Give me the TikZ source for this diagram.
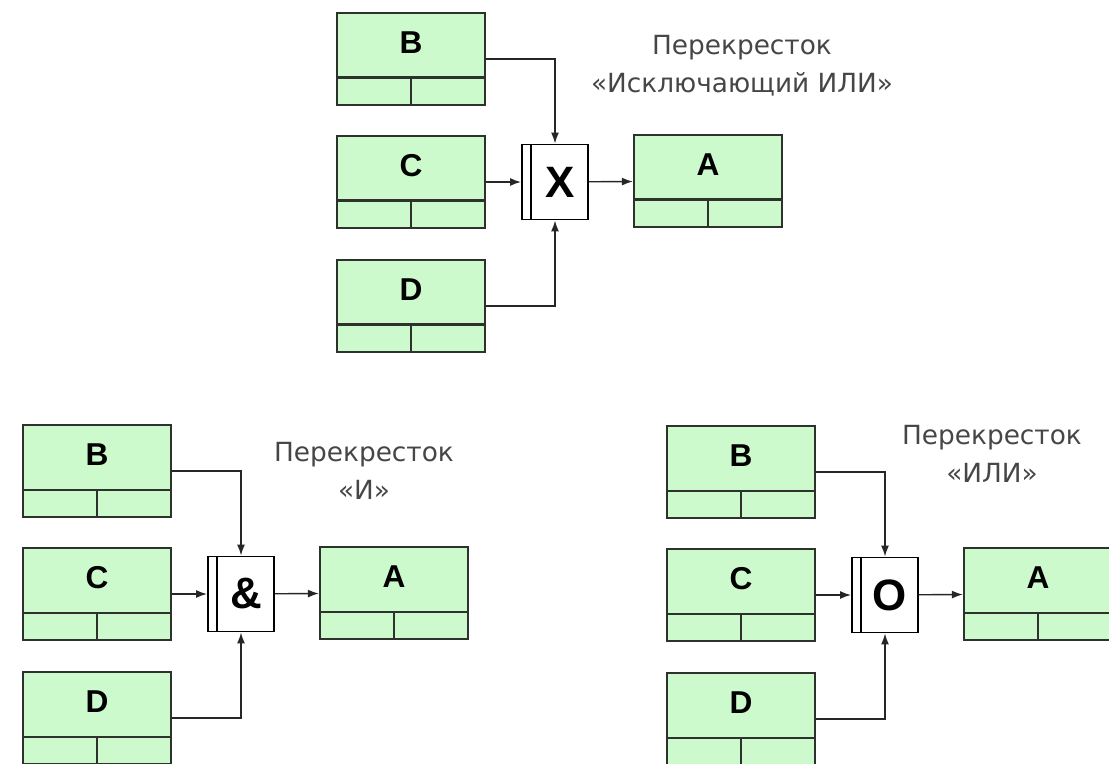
\documentclass[tikz,border=0pt]{standalone}
\usepackage{fontspec}
\setmainfont{Liberation Sans}
\newfontfamily\notefont{DejaVu Sans}
\usetikzlibrary{arrows.meta,positioning}
\definecolor{leaf}{RGB}{204,250,204}
\definecolor{frame}{RGB}{45,50,45}
\definecolor{note}{RGB}{70,70,70}
\tikzset{
  >={Latex[length=2.2mm,width=1.6mm]},
  rec/.style={draw=frame,fill=leaf,line width=1.3pt,minimum width=2.96cm,
    minimum height=1.84cm,inner sep=0pt,text height=0.44cm,text depth=0.66cm,
    font=\fontsize{18}{20}\selectfont\bfseries},
  gate/.style={draw=black,fill=white,line width=1.1pt,minimum width=1.32cm,
    minimum height=1.5cm,inner sep=0pt,font=\fontsize{25}{28}\selectfont\bfseries},
  link/.style={->,line width=0.8pt,draw=black!85},
  caption/.style={text=note,align=center,font=\notefont\fontsize{15}{21.5}\selectfont},
  % one crossing: three sources, the gate, one target
  pics/crossing/.style={code={
    \node[rec] (-b) at (74,46) {B};
    \node[rec] (-c) at (74,169) {C};
    \node[rec] (-d) at (74,293) {D};
    \node[gate] (-x) at (218,169) {\hspace*{0.2cm}#1};
    \node[rec] (-a) at (371,168) {A};
    \draw[line width=1.1pt] ([xshift=0.2cm]-x.north west) -- ([xshift=0.2cm]-x.south west);
    \foreach \n in {b,c,d,a} {
      \draw[frame,line width=1.3pt] ([yshift=0.57cm]-\n.south west) -- ([yshift=0.57cm]-\n.south east);
      \draw[frame,line width=1.3pt] ([yshift=0.57cm]-\n.south) -- (-\n.south);
    }
    \draw[link] (-b) -| (-x);
    \draw[link] (-c) -- (-x);
    \draw[link] (-d) -| (-x);
    \draw[link] (-x) -- (-a);
  }},
}
\begin{document}
\begin{tikzpicture}[x=0.02cm,y=-0.02cm]
  \useasboundingbox (0,0) rectangle (1109,764);
  \pic (xor) at (337,13) {crossing=X};
  \pic (and) at (23,425) {crossing=\&};
  \pic (or) at (667,426) {crossing=O};
  \node[caption] (xorcap) at (742,66) {Перекресток\\«Исключающий ИЛИ»};
  \node[caption] (andcap) at (364,471) {Перекресток\\«И»};
  \node[caption] (orcap) at (992,454) {Перекресток\\«ИЛИ»};
\end{tikzpicture}
\end{document}
